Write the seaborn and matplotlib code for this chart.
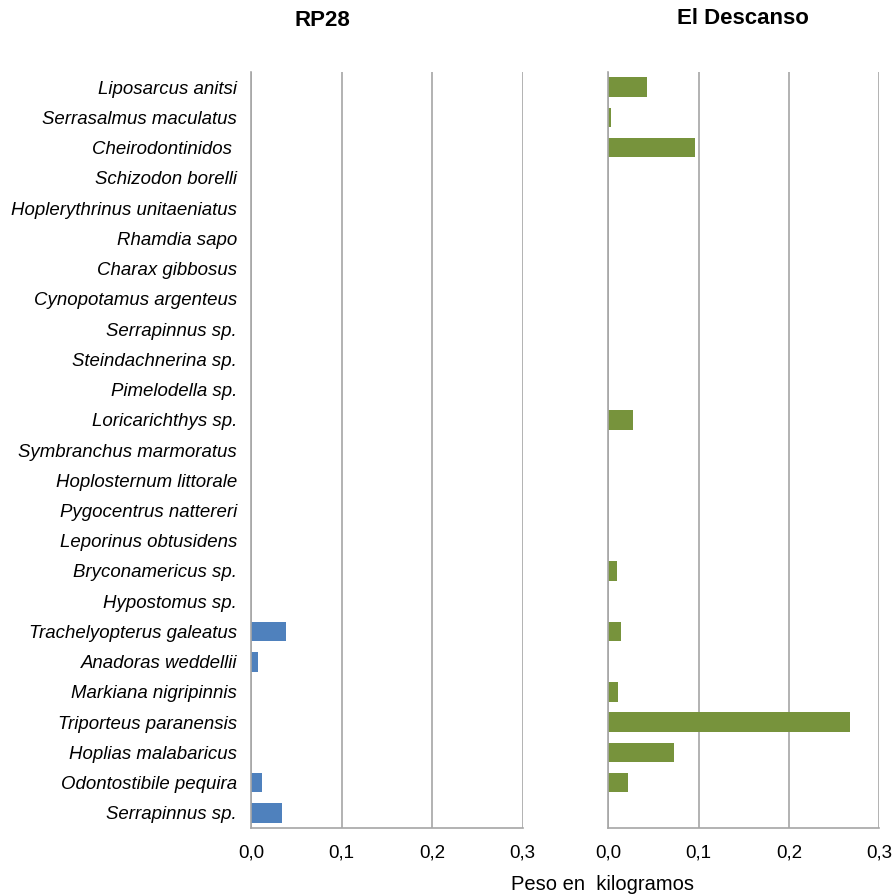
import matplotlib
matplotlib.use("Agg")
import matplotlib.pyplot as plt
from matplotlib.ticker import FuncFormatter
import seaborn as sns
import pandas as pd

species = [
    "Liposarcus anitsi", "Serrasalmus maculatus", "Cheirodontinidos ",
    "Schizodon borelli", "Hoplerythrinus unitaeniatus", "Rhamdia sapo",
    "Charax gibbosus", "Cynopotamus argenteus", "Serrapinnus sp.",
    "Steindachnerina sp.", "Pimelodella sp.", "Loricarichthys sp.",
    "Symbranchus marmoratus", "Hoplosternum littorale", "Pygocentrus nattereri",
    "Leporinus obtusidens", "Bryconamericus sp.", "Hypostomus sp.",
    "Trachelyopterus galeatus", "Anadoras weddellii", "Markiana nigripinnis",
    "Triporteus paranensis", "Hoplias malabaricus", "Odontostibile pequira",
    "Serrapinnus sp.",
]
rp28 = [0, 0, 0, 0, 0, 0, 0, 0, 0, 0, 0, 0, 0, 0, 0, 0, 0, 0,
        0.039, 0.008, 0, 0, 0, 0.012, 0.034]
descanso = [0.043, 0.003, 0.096, 0, 0, 0, 0, 0, 0, 0, 0, 0.027, 0, 0, 0, 0,
            0.010, 0, 0.014, 0, 0.011, 0.268, 0.073, 0.022, 0]
panels = ["RP28", "El Descanso"]
xticks = [0.0, 0.1, 0.2, 0.3]

sns.set_theme(style="white")
plt.rcParams["font.family"] = ["Liberation Sans", "DejaVu Sans"]
plt.rcParams["text.color"] = "black"
plt.rcParams["xtick.color"] = "black"
plt.rcParams["ytick.color"] = "black"

W, H = 895, 896
fig = plt.figure(figsize=(W / 100, H / 100), dpi=100)
top, bottom = 72, 828
ax_l = fig.add_axes([251 / W, (H - bottom) / H, 271.7 / W, (bottom - top) / H])
ax_r = fig.add_axes([608.3 / W, (H - bottom) / H, 271 / W, (bottom - top) / H])

grid_c = "#a6a6a6"
fmt = FuncFormatter(lambda v, p: f"{v:.1f}".replace(".", ","))

for ax, vals, color in [(ax_l, rp28, "#4F81BD"), (ax_r, descanso, "#77933C")]:
    df = pd.DataFrame({"row": list(range(len(species))), "peso": vals})
    sns.barplot(data=df, x="peso", y="row", orient="h", color=color,
                width=0.65, saturation=1, ax=ax, edgecolor="none")
    ax.set_xlim(0, 0.3)
    ax.set_ylim(len(species) - 0.5, -0.5)
    ax.set_xticks(xticks)
    ax.xaxis.set_major_formatter(fmt)
    ax.set_xlabel("")
    ax.set_ylabel("")
    for s in ["top", "right"]:
        ax.spines[s].set_visible(False)
    for s in ["left", "bottom"]:
        ax.spines[s].set_color(grid_c)
        ax.spines[s].set_linewidth(1.2)
    ax.grid(axis="x", color=grid_c, linewidth=1.2)
    ax.grid(axis="y", visible=False)
    ax.set_axisbelow(True)
    ax.tick_params(axis="x", length=0, pad=12, labelsize=13.5,
                   labelcolor="black")
    ax.tick_params(axis="y", length=0)

ax_l.set_yticks(range(len(species)))
ax_l.set_yticklabels(species, fontsize=13.4, fontstyle="italic", color="black")
ax_l.tick_params(axis="y", pad=10)
ax_r.set_yticks([])

fig.text(322 / W, 1 - 20 / H, panels[0], ha="center", va="center",
         fontsize=16, fontweight="bold", color="black")
fig.text(743 / W, 1 - 18 / H, panels[1], ha="center", va="center",
         fontsize=16, fontweight="bold", color="black")
fig.text(603 / W, 1 - 884 / H, "Peso en  kilogramos", ha="center",
         va="center", fontsize=14.5, color="black")

fig.savefig("out.png", dpi=100)
